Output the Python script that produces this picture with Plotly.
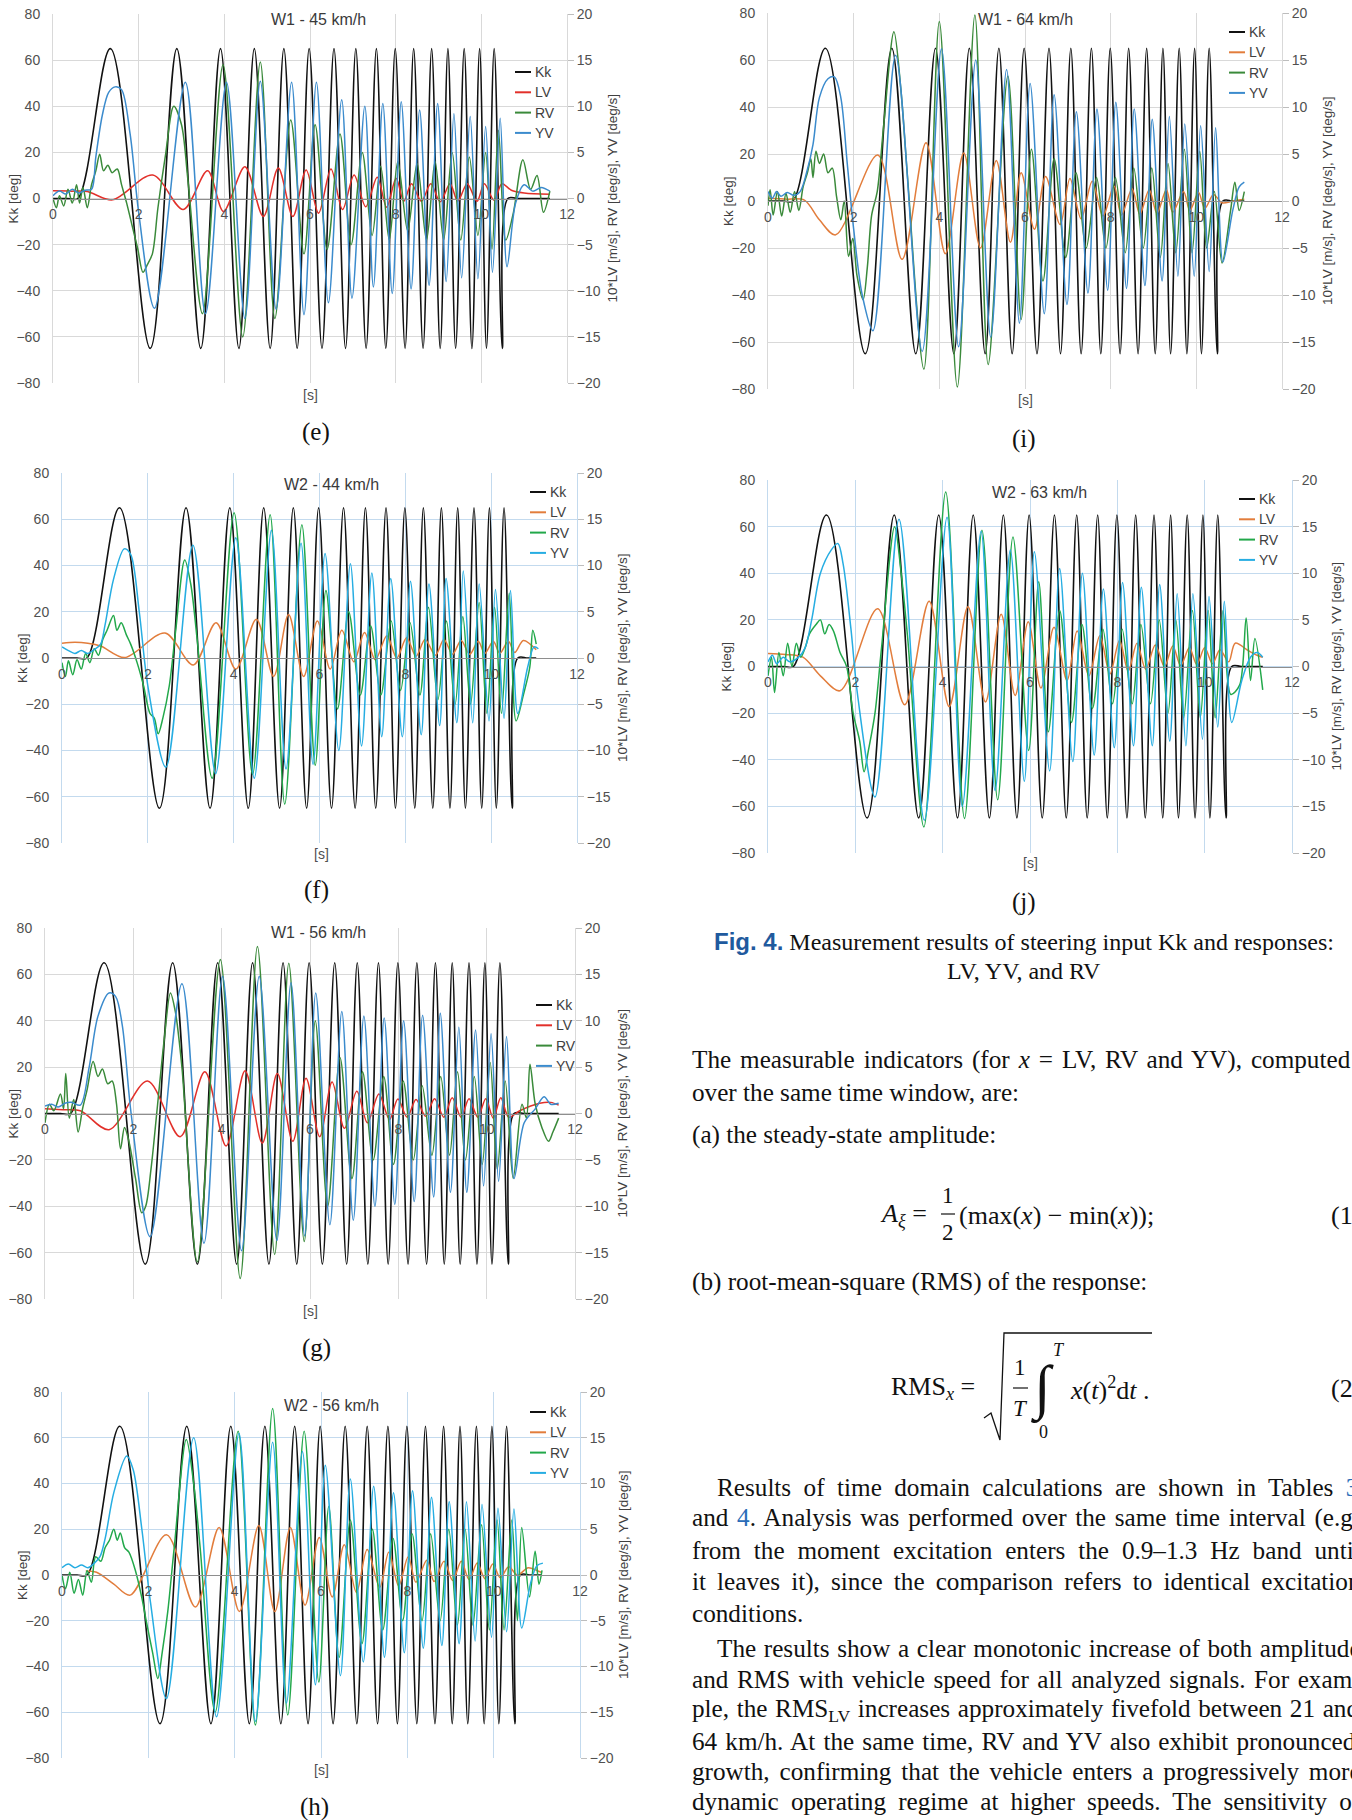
import re
import plotly.graph_objects as go

W, H = 1352, 1820
SANS = "Liberation Sans, Arial, sans-serif"
SERIF = "Liberation Serif, Times New Roman, serif"

# ---------------- data (time [s], value) ----------------
# steering input Kk [deg] (left axis)
kk_base = [(0, 0), (0.35, 0), (0.58, 0), (1.34, 65), (2.27, -65), (2.89, 65), (3.45, -65), (3.91, 65),
           (4.34, -65), (4.70, 65), (5.07, -65), (5.39, 65), (5.70, -65), (5.98, 65), (6.28, -65),
           (6.56, 65), (6.83, -65), (7.07, 65), (7.31, -65), (7.55, 65), (7.77, -65), (7.99, 65),
           (8.22, -65), (8.42, 65), (8.64, -65), (8.84, 65), (9.04, -65), (9.22, 65), (9.40, -65),
           (9.60, 65), (9.78, -65), (9.96, 65), (10.12, -65), (10.30, 65), (10.49, -65), (10.62, 0),
           (10.85, 0)]
kk_end = {"e": 11.6, "f": 11.05, "g": 11.63, "h": 11.1, "i": 11.12, "j": 11.33}

# responses (right axis: 10*LV [m/s], RV [deg/s], YV [deg/s])
e_lv = [(0, 0.85), (0.4, 0.8), (0.8, 0.75), (1.39, -0.15), (2.33, 2.55), (3.04, -1.2), (3.61, 3.0), (3.98, -1.4),
        (4.48, 3.45), (4.91, -1.95), (5.26, 3.3), (5.60, -1.95), (5.91, 3.1), (6.20, -1.6), (6.49, 3.2),
        (6.76, -1.2), (7.03, 2.55), (7.30, -0.9), (7.57, 2.3), (7.79, -0.95), (8.01, 2.2), (8.19, -0.3),
        (8.37, 1.6), (8.60, -0.3), (8.82, 1.6), (9.04, -0.35), (9.27, 1.6), (9.45, -0.3), (9.67, 1.6),
        (9.90, -0.3), (10.07, 1.6), (10.30, -0.2), (10.48, 1.6), (10.70, 0.9), (11.0, 0.6), (11.6, 0.45)]
e_rv = [(0, 0), (0.08, -1.0), (0.15, 0.3), (0.25, -0.8), (0.35, 1.0), (0.45, -0.5), (0.55, 1.5), (0.62, -0.5),
        (0.7, 1.2), (0.8, -1.0), (0.9, 1.5), (1.0, 3.0), (1.09, 4.8), (1.18, 3.0), (1.28, 3.6), (1.38, 2.8),
        (1.5, 3.2), (1.6, 1.5), (1.72, -0.5), (1.85, -3.0), (1.98, -5.5), (2.1, -8.0), (2.2, -7.2),
        (2.32, -6.0), (2.45, -1.0), (2.62, 4.5), (2.82, 10.0), (3.0, 8.0), (3.15, 2.0), (3.49, -12.5),
        (3.97, 14.5), (4.43, -15.0), (4.84, 14.8), (5.18, -13.0), (5.55, 8.5), (5.86, -6.0), (6.12, 8.0),
        (6.40, -5.5), (6.70, 7.0), (6.96, -5.0), (7.22, 5.0), (7.45, -4.0), (7.65, 3.5), (7.85, -4.5),
        (8.05, 4.0), (8.28, -3.5), (8.5, 3.8), (8.72, -4.5), (8.92, 4.0), (9.12, -4.5), (9.32, 5.0),
        (9.52, -4.5), (9.72, 4.5), (9.92, -4.0), (10.1, 5.0), (10.25, -5.5), (10.4, 7.4), (10.57, -4.5),
        (10.75, -1.5), (10.97, 4.2), (11.15, 1.0), (11.3, 2.5), (11.45, -1.5), (11.6, 0.8)]
e_yv = [(0, 0.3), (0.15, 0.8), (0.3, 0.5), (0.45, 1.0), (0.6, 0.6), (0.75, 0.9), (0.9, 1.0), (1.0, 4.5),
        (1.15, 9.0), (1.3, 11.5), (1.45, 12.1), (1.6, 11.8), (1.8, 7.0), (2.0, -1.5), (2.37, -11.9),
        (3.09, 12.6), (3.56, -12.5), (4.05, 12.6), (4.48, -13.0), (4.84, 12.7), (5.21, -12.0), (5.57, 12.6),
        (5.86, -12.6), (6.15, 12.6), (6.43, -11.3), (6.74, 10.7), (6.98, -10.8), (7.28, 10.0), (7.48, -9.6),
        (7.70, 10.3), (7.92, -10.3), (8.13, 10.5), (8.36, -9.8), (8.56, 9.6), (8.78, -9.4), (8.98, 10.3),
        (9.18, -9.0), (9.36, 9.2), (9.54, -8.6), (9.74, 8.9), (9.92, -8.7), (10.10, 7.8), (10.26, -8.0),
        (10.44, 8.7), (10.60, -7.4), (10.8, -0.5), (11.0, 1.5), (11.2, 0.8), (11.4, 1.2), (11.6, 0.8)]

f_lv = [(0, 1.6), (0.3, 1.7), (0.6, 1.6), (0.9, 1.3), (1.46, 0.05), (2.40, 2.7), (3.06, -0.75), (3.59, 3.8),
        (4.05, -1.2), (4.53, 4.2), (4.93, -2.0), (5.28, 4.7), (5.63, -2.0), (5.95, 4.0), (6.25, -1.2),
        (6.52, 3.0), (6.80, -0.4), (7.05, 2.75), (7.30, -0.2), (7.57, 2.4), (7.80, 0.0), (8.03, 2.2),
        (8.25, 0.2), (8.46, 2.0), (8.70, 0.3), (8.90, 2.0), (9.10, 0.4), (9.30, 1.9), (9.50, 0.4), (9.70, 1.8),
        (9.85, 0.5), (10.05, 1.8), (10.20, 0.5), (10.40, 1.8), (10.55, 0.6), (10.75, 1.9), (11.05, 0.9)]
f_rv = [(0, -0.5), (0.08, -2.0), (0.15, -0.3), (0.25, -1.8), (0.35, -0.2), (0.45, -1.2), (0.55, 0.5),
        (0.65, -0.5), (0.75, 1.0), (0.85, 0.3), (0.95, 2.0), (1.05, 3.0), (1.2, 4.6), (1.28, 3.0), (1.38, 3.8),
        (1.5, 2.5), (1.6, 1.5), (1.75, -0.5), (1.9, -3.0), (2.05, -6.0), (2.15, -6.5), (2.24, -8.2),
        (2.35, -6.5), (2.5, -3.0), (2.65, 3.0), (2.86, 10.6), (3.0, 8.0), (3.15, 2.0), (3.50, -13.0),
        (4.01, 15.7), (4.44, -12.6), (4.85, 15.5), (5.19, -15.8), (5.59, 14.4), (5.90, -11.6), (6.15, 7.3),
        (6.42, -5.5), (6.68, 5.0), (6.95, -4.0), (7.19, 3.5), (7.43, -4.0), (7.67, 4.0), (7.89, -3.5),
        (8.11, 3.8), (8.34, -4.0), (8.54, 5.5), (8.76, -4.5), (8.96, 4.0), (9.16, -5.0), (9.34, 4.5),
        (9.52, -5.0), (9.72, 6.0), (9.90, -6.0), (10.08, 5.5), (10.24, -6.0), (10.42, 7.0), (10.58, -6.8),
        (10.75, -4.0), (10.9, -1.0), (10.97, 3.0), (11.05, 1.5)]
f_yv = [(0, 1.2), (0.15, 0.8), (0.3, 0.5), (0.45, 0.8), (0.6, 0.5), (0.75, 0.9), (0.9, 1.5), (1.0, 3.5),
        (1.2, 8.5), (1.45, 11.8), (1.6, 11.2), (1.8, 5.0), (2.0, -3.0), (2.42, -11.8), (3.05, 12.2),
        (3.58, -12.5), (4.05, 13.0), (4.48, -13.0), (4.88, 13.8), (5.22, -12.0), (5.57, 12.4), (5.85, -11.5),
        (6.13, 11.3), (6.45, -10.0), (6.72, 10.2), (6.98, -9.5), (7.22, 9.2), (7.45, -8.5), (7.66, 8.6),
        (7.93, -8.5), (8.12, 8.3), (8.37, -8.3), (8.55, 8.0), (8.80, -7.3), (8.95, 8.6), (9.20, -7.0),
        (9.35, 9.4), (9.57, -7.0), (9.72, 8.0), (9.95, -6.8), (10.10, 7.4), (10.30, -6.5), (10.45, 7.3),
        (10.62, -6.0), (10.85, -1.0), (11.0, 1.2), (11.1, 1.0)]

g_lv = [(0, 0.5), (0.4, 0.4), (0.8, 0.3), (1.45, -1.75), (2.32, 3.5), (3.06, -2.5), (3.62, 4.5), (4.10, -3.5),
        (4.53, 4.6), (4.92, -3.2), (5.26, 4.3), (5.61, -3.0), (5.91, 3.8), (6.22, -2.5), (6.50, 3.4),
        (6.78, -1.6), (7.06, 2.4), (7.30, -1.0), (7.56, 2.1), (7.80, -0.65), (7.99, 1.55), (8.20, -0.4),
        (8.40, 1.5), (8.62, -0.3), (8.82, 1.6), (9.03, -0.4), (9.22, 1.7), (9.42, -0.4), (9.60, 1.6),
        (9.80, -0.4), (9.98, 1.6), (10.15, -0.5), (10.32, 1.7), (10.50, -0.4), (10.75, 0.3), (11.2, 1.1),
        (11.45, 1.2), (11.63, 0.9)]
g_rv = [(0, -1.0), (0.1, 1.0), (0.2, 0.3), (0.35, 2.1), (0.42, 0.5), (0.47, 4.3), (0.55, -0.5), (0.65, 1.5),
        (0.75, -2.0), (0.85, 0.5), (0.95, 2.5), (1.09, 5.6), (1.2, 4.0), (1.3, 4.8), (1.42, 3.2), (1.52, 3.5),
        (1.62, 1.0), (1.71, -3.8), (1.8, -1.5), (1.9, -3.0), (2.05, -7.0), (2.19, -10.7), (2.28, -10.0),
        (2.4, -6.0), (2.55, 1.0), (2.7, 8.0), (2.84, 13.0), (2.95, 11.0), (3.1, 5.0), (3.45, -16.0),
        (3.97, 16.6), (4.42, -17.8), (4.81, 18.0), (5.20, -15.2), (5.52, 16.2), (5.87, -13.8), (6.12, 10.0),
        (6.40, -10.0), (6.68, 6.0), (6.95, -7.0), (7.19, 4.5), (7.43, -5.0), (7.67, 4.0), (7.89, -5.5),
        (8.11, 3.5), (8.34, -5.0), (8.54, 3.0), (8.76, -4.5), (8.96, 4.0), (9.16, -4.5), (9.34, 4.5),
        (9.52, -5.0), (9.72, 4.0), (9.90, -5.5), (10.08, 5.5), (10.24, -6.0), (10.42, 3.5), (10.60, -7.0),
        (10.8, 1.0), (10.9, -0.5), (10.98, 5.3), (11.1, 1.0), (11.25, -1.5), (11.4, -3.0), (11.5, -2.0),
        (11.63, -0.5)]
g_yv = [(0, 0.8), (0.15, 1.0), (0.3, 0.7), (0.45, 1.1), (0.6, 1.2), (0.8, 0.9), (1.0, 5.0), (1.2, 10.5),
        (1.45, 13.0), (1.6, 12.6), (1.75, 9.5), (1.95, 0.0), (2.38, -13.3), (3.10, 14.0), (3.60, -14.0),
        (4.02, 14.8), (4.45, -14.8), (4.85, 14.8), (5.25, -13.7), (5.57, 14.1), (5.88, -13.2), (6.13, 13.0),
        (6.45, -12.0), (6.72, 11.0), (6.98, -11.5), (7.22, 10.5), (7.47, -10.0), (7.68, 10.3), (7.92, -9.8),
        (8.12, 10.0), (8.36, -9.5), (8.55, 10.6), (8.80, -9.0), (8.95, 10.8), (9.18, -8.5), (9.37, 9.3),
        (9.55, -8.5), (9.75, 9.0), (9.93, -7.8), (10.10, 8.6), (10.27, -7.3), (10.45, 8.3), (10.62, -7.0),
        (10.85, -1.0), (11.1, 0.5), (11.3, 1.8), (11.45, 1.0), (11.63, 1.1)]

h_lv = [(0.55, 0.45), (0.8, 0.3), (1.2, -1.0), (1.58, -2.2), (2.42, 4.4), (3.09, -3.5), (3.64, 5.2),
        (4.11, -4.0), (4.56, 5.4), (4.93, -4.0), (5.29, 5.2), (5.63, -3.3), (5.96, 4.1), (6.26, -2.4),
        (6.54, 3.3), (6.82, -1.9), (7.07, 2.8), (7.36, -1.35), (7.57, 2.5), (7.80, -1.2), (8.02, 2.0),
        (8.20, -0.8), (8.45, 1.6), (8.62, -0.7), (8.85, 1.5), (9.05, -0.6), (9.25, 1.5), (9.43, -0.5),
        (9.62, 1.3), (9.80, -0.4), (9.98, 1.2), (10.15, -0.3), (10.35, 0.9), (10.55, 0.0), (10.80, 0.8),
        (11.0, 0.5), (11.1, 0.3)]
h_rv = [(0, 0.0), (0.08, -1.5), (0.18, 0.3), (0.28, -2.0), (0.38, -0.5), (0.48, -2.2), (0.58, 0.5),
        (0.68, -0.8), (0.78, 2.0), (0.9, 1.5), (1.0, 3.0), (1.1, 3.8), (1.2, 5.0), (1.28, 3.8), (1.35, 4.6),
        (1.45, 3.0), (1.55, 2.5), (1.7, 0.5), (1.85, -2.5), (1.95, -5.0), (2.1, -8.5), (2.22, -11.3),
        (2.32, -8.5), (2.45, -4.0), (2.6, 3.0), (2.88, 14.8), (3.05, 10.0), (3.2, 3.0), (3.55, -15.0),
        (4.08, 15.7), (4.48, -16.4), (4.88, 18.2), (5.23, -15.3), (5.61, 15.7), (5.95, -11.7), (6.18, 7.5),
        (6.42, -9.0), (6.68, 6.0), (6.95, -7.5), (7.19, 5.0), (7.43, -6.0), (7.67, 4.0), (7.89, -5.0),
        (8.11, 4.5), (8.34, -5.0), (8.54, 4.5), (8.76, -5.0), (8.96, 5.0), (9.16, -5.5), (9.34, 5.0),
        (9.52, -5.5), (9.72, 5.5), (9.90, -6.0), (10.08, 6.0), (10.24, -6.0), (10.42, 6.0), (10.55, -5.0),
        (10.65, 5.2), (10.83, -2.4), (10.96, 2.6), (11.05, -1.0), (11.12, 0.5)]
h_yv = [(0, 0.8), (0.15, 1.2), (0.3, 0.8), (0.45, 1.1), (0.6, 0.8), (0.75, 1.3), (0.88, 2.0), (1.0, 4.0),
        (1.2, 9.0), (1.5, 13.0), (1.65, 11.5), (1.85, 5.0), (2.05, -3.0), (2.42, -13.5), (3.05, 15.0),
        (3.58, -15.5), (4.10, 15.5), (4.48, -16.0), (4.88, 14.5), (5.20, -14.0), (5.57, 13.5), (5.87, -12.0),
        (6.10, 12.0), (6.45, -11.0), (6.68, 10.5), (6.98, -9.5), (7.22, 9.7), (7.47, -9.0), (7.68, 9.0),
        (7.93, -8.5), (8.12, 9.2), (8.37, -8.0), (8.56, 8.5), (8.80, -7.7), (8.97, 8.0), (9.20, -7.5),
        (9.37, 8.0), (9.57, -7.2), (9.73, 7.7), (9.95, -6.8), (10.10, 7.3), (10.30, -6.2), (10.47, 7.2),
        (10.65, -5.8), (10.85, -1.0), (11.0, 1.0), (11.14, 1.3)]

i_lv = [(0, 0.3), (0.4, 0.2), (0.85, 0.1), (1.2, -2.0), (1.58, -3.6), (2.56, 4.9), (3.13, -6.2), (3.69, 6.2),
        (4.14, -5.6), (4.57, 5.1), (4.96, -5.0), (5.33, 4.3), (5.66, -4.4), (5.91, 3.0), (6.22, -3.0),
        (6.48, 2.6), (6.82, -2.5), (7.05, 2.4), (7.31, -1.9), (7.57, 2.1), (7.82, -1.6), (8.08, 1.6),
        (8.25, -1.5), (8.50, 1.3), (8.68, -1.4), (8.90, 1.2), (9.08, -1.3), (9.30, 1.2), (9.45, -1.2),
        (9.70, 1.0), (9.85, -1.0), (10.05, 0.9), (10.20, -0.8), (10.40, 0.7), (10.60, -0.2), (10.85, 0.0),
        (11.12, 0.2)]
i_rv = [(0, -0.5), (0.05, 1.2), (0.12, -1.5), (0.22, 1.0), (0.32, -1.6), (0.42, 0.8), (0.52, -1.2),
        (0.62, 1.0), (0.72, -1.0), (0.82, 1.5), (0.92, 3.0), (1.0, 4.5), (1.05, 2.5), (1.12, 5.3), (1.2, 4.0),
        (1.3, 5.0), (1.4, 3.0), (1.5, 3.5), (1.6, 0.5), (1.7, -2.0), (1.78, 0.0), (1.88, -5.9), (1.98, -4.0),
        (2.08, -8.0), (2.22, -10.5), (2.32, -7.0), (2.42, -1.5), (2.55, 1.0), (2.7, 8.0), (2.94, 18.0),
        (3.1, 12.0), (3.25, 3.0), (3.64, -17.9), (4.0, 19.1), (4.42, -19.8), (4.83, 19.8), (5.14, -17.4),
        (5.60, 13.3), (5.91, -12.6), (6.15, 5.5), (6.42, -8.5), (6.68, 4.5), (6.95, -6.0), (7.19, 3.0),
        (7.43, -5.0), (7.67, 2.5), (7.89, -5.0), (8.11, 2.5), (8.34, -5.5), (8.54, 3.5), (8.76, -5.0),
        (8.96, 3.5), (9.16, -6.0), (9.34, 4.0), (9.52, -5.5), (9.72, 5.5), (9.90, -5.5), (10.08, 5.3),
        (10.24, -5.0), (10.42, 1.0), (10.60, -6.6), (10.8, -1.0), (10.9, 2.0), (11.0, -1.0), (11.12, 1.0)]
i_yv = [(0, 1.0), (0.1, 0.3), (0.2, 1.0), (0.3, 0.5), (0.45, 0.9), (0.6, 0.6), (0.75, 1.0), (0.9, 3.0),
        (1.05, 6.0), (1.2, 11.0), (1.4, 13.0), (1.55, 13.2), (1.7, 11.0), (1.85, 4.0), (2.0, -3.0),
        (2.2, -10.0), (2.45, -13.8), (2.98, 15.5), (3.60, -16.0), (4.05, 16.2), (4.45, -15.5), (4.85, 15.0),
        (5.20, -14.5), (5.57, 14.0), (5.87, -13.0), (6.12, 12.5), (6.45, -12.0), (6.68, 11.3), (6.98, -11.0),
        (7.20, 9.5), (7.47, -9.8), (7.68, 9.8), (7.93, -9.5), (8.12, 10.5), (8.37, -9.3), (8.55, 9.8),
        (8.80, -9.0), (8.97, 8.7), (9.20, -8.5), (9.37, 9.0), (9.57, -8.0), (9.73, 8.2), (9.95, -8.0),
        (10.10, 8.0), (10.30, -7.5), (10.45, 7.8), (10.62, -6.5), (10.85, -1.0), (11.0, 1.5), (11.12, 2.0)]

j_lv = [(0, 1.4), (0.4, 1.3), (0.8, 1.0), (1.2, -1.0), (1.65, -2.6), (2.51, 6.2), (3.13, -4.1), (3.69, 7.0),
        (4.15, -4.3), (4.58, 6.4), (4.98, -3.8), (5.34, 5.6), (5.66, -3.1), (5.96, 4.8), (6.25, -2.3),
        (6.55, 4.2), (6.85, -1.5), (7.08, 3.8), (7.35, -1.0), (7.60, 3.3), (7.83, -0.8), (8.05, 2.8),
        (8.25, -0.5), (8.45, 2.5), (8.65, -0.3), (8.87, 2.3), (9.08, 0.0), (9.27, 2.2), (9.45, 0.1),
        (9.65, 2.0), (9.82, 0.2), (10.0, 2.0), (10.18, 0.3), (10.35, 1.8), (10.55, 0.5), (10.70, 2.5),
        (11.0, 1.7), (11.2, 1.2), (11.33, 1.0)]
j_rv = [(0, -1.0), (0.08, 1.0), (0.15, -2.8), (0.25, 1.5), (0.35, -1.0), (0.45, 2.5), (0.55, 0.0), (0.65, 2.5),
        (0.75, 1.0), (0.85, 2.0), (0.95, 3.5), (1.1, 4.5), (1.2, 5.0), (1.3, 3.5), (1.4, 4.5), (1.5, 3.8),
        (1.65, 1.5), (1.8, 0.0), (1.95, -5.0), (2.1, -8.0), (2.2, -11.3), (2.3, -9.0), (2.45, -5.0),
        (2.6, 2.0), (2.9, 15.0), (3.05, 10.0), (3.2, 3.0), (3.57, -17.2), (4.07, 18.7), (4.50, -16.3),
        (4.90, 14.6), (5.26, -14.3), (5.61, 13.9), (5.97, -9.0), (6.20, 9.1), (6.42, -7.0), (6.68, 6.0),
        (6.95, -6.0), (7.19, 4.5), (7.43, -4.5), (7.67, 4.0), (7.89, -4.0), (8.11, 4.0), (8.34, -4.0),
        (8.54, 4.5), (8.76, -4.0), (8.96, 5.0), (9.16, -5.0), (9.34, 5.0), (9.52, -5.5), (9.72, 6.0),
        (9.90, -5.5), (10.08, 6.0), (10.24, -5.5), (10.42, 6.0), (10.60, -3.0), (10.8, -2.0), (10.95, 5.2),
        (11.05, -1.5), (11.15, 3.0), (11.33, -2.5)]
j_yv = [(0, 0.5), (0.1, 1.2), (0.2, 0.3), (0.35, 1.0), (0.5, 0.5), (0.7, 1.0), (0.85, 2.0), (1.0, 5.0),
        (1.2, 10.0), (1.45, 12.5), (1.6, 13.2), (1.72, 11.0), (1.9, 4.0), (2.05, -3.0), (2.45, -14.0),
        (3.00, 15.8), (3.58, -16.5), (4.10, 16.0), (4.45, -15.0), (4.88, 14.5), (5.20, -13.3), (5.55, 12.5),
        (5.87, -12.3), (6.10, 12.3), (6.45, -11.2), (6.68, 10.5), (6.98, -10.2), (7.20, 10.0), (7.47, -9.5),
        (7.68, 8.3), (7.93, -8.7), (8.12, 9.0), (8.37, -8.5), (8.55, 8.5), (8.80, -8.5), (8.97, 8.8),
        (9.20, -8.0), (9.37, 7.8), (9.57, -8.5), (9.73, 7.8), (9.95, -7.8), (10.10, 7.5), (10.30, -6.5),
        (10.45, 7.0), (10.62, -6.0), (10.85, -1.5), (11.05, 1.0), (11.2, 1.5), (11.33, 1.0)]

x_ticks = [0, 2, 4, 6, 8, 10, 12]
kk_ticks = [-80, -60, -40, -20, 0, 20, 40, 60, 80]
resp_ticks = [-20, -15, -10, -5, 0, 5, 10, 15, 20]
series_names = ["Kk", "LV", "RV", "YV"]
chart_titles = {"e": "W1 - 45 km/h", "f": "W2 - 44 km/h", "g": "W1 - 56 km/h",
                "h": "W2 - 56 km/h", "i": "W1 - 64 km/h", "j": "W2 - 63 km/h"}
responses = {"e": (e_lv, e_rv, e_yv), "f": (f_lv, f_rv, f_yv), "g": (g_lv, g_rv, g_yv),
             "h": (h_lv, h_rv, h_yv), "i": (i_lv, i_rv, i_yv), "j": (j_lv, j_rv, j_yv)}

# ---------------- styling / layout (pixel positions) ----------------
GRAY_GRID = "#d9d9d9"
BLUE_GRID = "#c3daee"
RED, ORANGE = "#e2302a", "#e27d3c"
DKGREEN, GREEN = "#3a8a3a", "#22a84a"
BLUE, CYAN = "#3b8bcd", "#26ade2"

charts = [
    dict(key="e", rect=(53, 14, 567, 383), grid=GRAY_GRID, col=(RED, DKGREEN, BLUE),
         title=(318, 20), leg=(515, 72), sx=(310, 395), cap=(316, 432), lt=13, rt=612),
    dict(key="f", rect=(62, 473, 577, 843), grid=BLUE_GRID, col=(ORANGE, GREEN, CYAN),
         title=(331, 485), leg=(530, 492), sx=(321, 854), cap=(316, 890), lt=22, rt=622),
    dict(key="g", rect=(45, 928, 575, 1299), grid=GRAY_GRID, col=(RED, DKGREEN, BLUE),
         title=(318, 933), leg=(536, 1005), sx=(310, 1311), cap=(316, 1348), lt=13, rt=622),
    dict(key="h", rect=(62, 1392, 580, 1758), grid=BLUE_GRID, col=(ORANGE, GREEN, CYAN),
         title=(331, 1405), leg=(530, 1412), sx=(321, 1770), cap=(314, 1807), lt=22, rt=623),
    dict(key="i", rect=(768, 13, 1282, 389), grid=GRAY_GRID, col=(ORANGE, DKGREEN, BLUE),
         title=(1025, 20), leg=(1229, 32), sx=(1025, 400), cap=(1024, 439), lt=728, rt=1327),
    dict(key="j", rect=(768, 480, 1292, 853), grid=BLUE_GRID, col=(ORANGE, GREEN, CYAN),
         title=(1039, 493), leg=(1239, 499), sx=(1030, 863), cap=(1024, 902), lt=726, rt=1336),
]

fig = go.Figure()
annotations, shapes = [], []


def fx(x):
    return x / W


def fy(y):
    return 1 - y / H


def ann(x, y, text, size=14, color="#404040", family=SANS, xanchor="center", yanchor="middle", angle=0):
    annotations.append(dict(x=fx(x), y=fy(y), xref="paper", yref="paper", text=text, showarrow=False,
                            font=dict(size=size, color=color, family=family), xanchor=xanchor,
                            yanchor=yanchor, textangle=angle))


def hline(x0, x1, y, color, width=1.5):
    shapes.append(dict(type="line", xref="paper", yref="paper", x0=fx(x0), x1=fx(x1), y0=fy(y), y1=fy(y),
                       line=dict(color=color, width=width)))


TICKFONT = dict(family=SANS, size=14, color="#505050")

for n, c in enumerate(charts, start=1):
    k = c["key"]
    x0, y0, x1, y1 = c["rect"]
    xa = "xaxis" if n == 1 else f"xaxis{n}"
    ya = "yaxis" if n == 1 else f"yaxis{n}"
    yb = f"yaxis{n + 6}"
    xr = "x" if n == 1 else f"x{n}"
    yr = "y" if n == 1 else f"y{n}"
    ybr = f"y{n + 6}"
    mid = (y0 + y1) / 2
    fig.layout[xa] = dict(domain=[fx(x0), fx(x1)], range=[0, 12], tickvals=x_ticks, showgrid=True,
                          gridcolor=c["grid"], gridwidth=1, zeroline=False, anchor="free", position=fy(mid),
                          showline=True, linecolor="#8e8e8e", linewidth=1.2, ticks="outside", ticklen=3,
                          tickcolor="rgba(0,0,0,0)", tickfont=TICKFONT, automargin=False, fixedrange=True)
    fig.layout[ya] = dict(domain=[fy(y1), fy(y0)], range=[-80, 80], tickvals=kk_ticks, showgrid=True,
                          gridcolor=c["grid"], gridwidth=1, zeroline=False, anchor=xr, showline=True,
                          linecolor=c["grid"], ticks="outside", ticklen=9, tickcolor="rgba(0,0,0,0)",
                          tickfont=TICKFONT, automargin=False, fixedrange=True)
    fig.layout[yb] = dict(overlaying=yr, side="right", anchor=xr, range=[-20, 20], tickvals=resp_ticks,
                          showgrid=False, zeroline=False, showline=True, linecolor=c["grid"],
                          ticks="outside", ticklen=6, tickcolor="#bdbdbd", tickfont=TICKFONT,
                          automargin=False, fixedrange=True)

    kk = kk_base + [(kk_end[k], 0)]
    fig.add_trace(go.Scatter(x=[p[0] for p in kk], y=[p[1] for p in kk], mode="lines", name="Kk",
                             line=dict(color="#111111", width=1.6, shape="spline", smoothing=1.0),
                             xaxis=xr, yaxis=yr, showlegend=False, hoverinfo="skip"))
    for sname, data, col in zip(series_names[1:], responses[k], c["col"]):
        fig.add_trace(go.Scatter(x=[p[0] for p in data], y=[p[1] for p in data], mode="lines", name=sname,
                                 line=dict(color=col, width=1.5, shape="spline", smoothing=0.9),
                                 xaxis=xr, yaxis=ybr, showlegend=False, hoverinfo="skip"))

    # chart texts
    ann(c["title"][0], c["title"][1], chart_titles[k], size=16, color="#3a3a3a")
    ann(c["sx"][0], c["sx"][1], "[s]", size=14, color="#505050")
    ann(c["lt"], mid, "Kk [deg]", size=13.5, color="#404040", angle=-90)
    ann(c["rt"], mid, "10*LV [m/s], RV [deg/s], YV [deg/s]", size=13.5, color="#404040", angle=-90)
    ann(c["cap"][0], c["cap"][1], f"({k})", size=25, color="#111111", family=SERIF)
    lx, ly = c["leg"]
    for r, (sname, col) in enumerate(zip(series_names, ("#111111",) + c["col"])):
        yy = ly + r * 20.3
        hline(lx, lx + 16, yy, col, 2)
        ann(lx + 18, yy, sname, size=14, color="#404040", xanchor="left")

# ---------------- page text ----------------
BODY = 25.2
RIGHT_EDGE = 1359
# approximate Times advance widths (1/1000 em) used to justify lines
TW = {" ": 250, "(": 333, ")": 333, ",": 250, "-": 333, ".": 250, "/": 278, ":": 278, ";": 278, "=": 564,
      "–": 500, "−": 564, "A": 722, "B": 667, "C": 667, "D": 722, "E": 611, "F": 556, "G": 722, "H": 722,
      "I": 333, "J": 389, "K": 722, "L": 611, "M": 889, "N": 722, "O": 722, "P": 556, "Q": 722, "R": 667,
      "S": 556, "T": 611, "U": 722, "V": 722, "W": 944, "X": 722, "Y": 722, "Z": 611, "a": 444, "b": 500,
      "c": 444, "d": 500, "e": 444, "f": 333, "g": 500, "h": 500, "i": 278, "j": 278, "k": 500, "l": 278,
      "m": 778, "n": 500, "o": 500, "p": 500, "q": 500, "r": 333, "s": 389, "t": 278, "u": 500, "v": 500,
      "w": 722, "x": 500, "y": 500, "z": 444}


def text_width(html, size):
    w, small = 0.0, False
    for part in re.split(r"(<[^>]+>)", html):
        if part.startswith("<"):
            tg = part.lower()
            if tg.startswith("<sub") or tg.startswith("<sup"):
                small = True
            elif tg.startswith("</sub") or tg.startswith("</sup"):
                small = False
            continue
        for ch in part:
            w += TW.get(ch, 500) * (0.7 if small else 1.0)
    return w * size / 1000.0


def justify(html, x0, size):
    plain = re.sub(r"<[^>]+>", "", html)
    nsp = plain.count(" ")
    ws = (RIGHT_EDGE - x0 - text_width(html, size)) / max(nsp, 1)
    ws = max(ws, -1.0)
    return f"<span style='word-spacing:{ws:.2f}px'>{html}</span>"


BLUE_TXT = "#2a6cb8"
ann(1024, 941, "<span style='font-family:Liberation Sans, Arial; font-weight:bold; color:#1f5a9e'>Fig. 4.</span>"
    " Measurement results of steering input Kk and responses:", size=24, color="#111111", family=SERIF)
ann(1024, 971, "LV, YV, and RV", size=24, color="#111111", family=SERIF)

# (x, y, text, justified)
body = [
    (690, 1060, "The measurable indicators (for <i>x</i> = LV, RV and YV), computed", True),
    (690, 1092, "over the same time window, are:", False),
    (690, 1135, "(a) the steady-state amplitude:", False),
    (690, 1282, "(b) root-mean-square (RMS) of the response:", False),
    (715, 1487, f"Results of time domain calculations are shown in Tables <span style='color:{BLUE_TXT}'>3</span>", True),
    (690, 1518, f"and <span style='color:{BLUE_TXT}'>4</span>. Analysis was performed over the same time interval (e.g.", True),
    (690, 1550, "from the moment excitation enters the 0.9–1.3 Hz band until", True),
    (690, 1582, "it leaves it), since the comparison refers to identical excitation", True),
    (690, 1613, "conditions.", False),
    (715, 1648, "The results show a clear monotonic increase of both amplitude", True),
    (690, 1679, "and RMS with vehicle speed for all analyzed signals. For exam-", True),
    (690, 1710, "ple, the RMS<sub>LV</sub> increases approximately fivefold between 21 and", True),
    (690, 1741, "64 km/h. At the same time, RV and YV also exhibit pronounced", True),
    (690, 1771, "growth, confirming that the vehicle enters a progressively more", True),
    (690, 1801, "dynamic operating regime at higher speeds. The sensitivity of", True),
]
for bx, by, t, just in body:
    ann(bx, by, justify(t, bx, BODY) if just else t, size=BODY, color="#111111", family=SERIF, xanchor="left")

# equation (1)
ann(929, 1215, "<i>A</i><sub><i>ξ</i></sub> =", size=26, color="#111111", family=SERIF, xanchor="right")
ann(948, 1195, "1", size=23, color="#111111", family=SERIF)
ann(948, 1232, "2", size=23, color="#111111", family=SERIF)
hline(941, 955, 1214, "#111111", 1.2)
ann(957, 1215, "(max(<i>x</i>) − min(<i>x</i>));", size=26, color="#111111", family=SERIF, xanchor="left")
ann(1329, 1215, "(1)", size=26, color="#111111", family=SERIF, xanchor="left")

# equation (2)
ann(977, 1388, "RMS<sub><i>x</i></sub> =", size=26, color="#111111", family=SERIF, xanchor="right")
pts = [(984, 1418), (991, 1413), (1000, 1440), (1004, 1333), (1152, 1333)]
path = "M " + " L ".join(f"{fx(a):.5f},{fy(b):.5f}" for a, b in pts)
shapes.append(dict(type="path", xref="paper", yref="paper", path=path, line=dict(color="#111111", width=1.3)))
ann(1020, 1367, "1", size=23, color="#111111", family=SERIF)
hline(1013, 1028, 1388, "#111111", 1.2)
ann(1020, 1408, "<i>T</i>", size=23, color="#111111", family=SERIF)
ann(1042, 1389, "∫", size=60, color="#111111", family=SERIF)
ann(1059, 1350, "<i>T</i>", size=18, color="#111111", family=SERIF)
ann(1043, 1432, "0", size=18, color="#111111", family=SERIF)
ann(1068, 1388, "<i>x</i>(<i>t</i>)<sup>2</sup>d<i>t</i> .", size=26, color="#111111", family=SERIF, xanchor="left")
ann(1329, 1388, "(2)", size=26, color="#111111", family=SERIF, xanchor="left")

fig.update_layout(width=W, height=H, margin=dict(l=0, r=0, t=0, b=0), paper_bgcolor="white",
                  plot_bgcolor="white", showlegend=False, annotations=annotations, shapes=shapes,
                  font=dict(family=SANS))
fig.write_html("out.html", config={"displayModeBar": False},
               post_script="document.body.style.margin='0';document.body.style.overflow='hidden';")
